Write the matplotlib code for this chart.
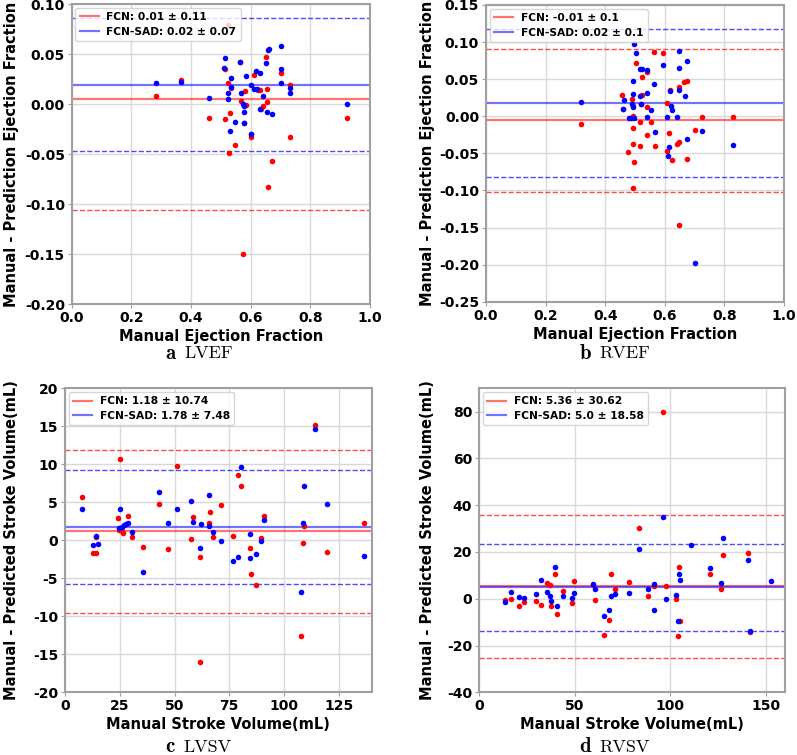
import matplotlib.pyplot as plt
import numpy as np

plt.rcParams['axes.unicode_minus'] = False
plt.rcParams['font.weight'] = 'bold'
plt.rcParams['axes.labelweight'] = 'bold'

# (manual value, manual - predicted)
lvef_fcn = [(0.283, 0.008), (0.367, 0.024), (0.461, -0.014), (0.513, -0.015), (0.513, 0.035),
            (0.525, 0.021), (0.530, -0.009), (0.528, -0.049), (0.525, 0.079), (0.533, 0.016),
            (0.548, -0.041), (0.564, 0.042), (0.581, 0.013), (0.566, 0.003), (0.579, -0.001),
            (0.584, -0.001), (0.577, -0.019), (0.602, -0.030), (0.600, -0.033), (0.611, 0.029),
            (0.623, 0.014), (0.631, 0.014), (0.654, 0.002), (0.640, -0.002), (0.633, -0.005),
            (0.651, 0.047), (0.654, 0.015), (0.700, 0.031), (0.732, 0.019), (0.732, -0.033),
            (0.670, -0.057), (0.922, -0.014), (0.659, -0.083), (0.575, -0.150)]
lvef_sad = [(0.283, 0.021), (0.366, 0.022), (0.461, 0.006), (0.514, 0.046), (0.512, 0.036),
            (0.525, 0.011), (0.525, 0.005), (0.530, -0.027), (0.533, 0.026), (0.533, 0.017),
            (0.548, -0.018), (0.564, 0.042), (0.584, 0.028), (0.566, 0.011), (0.574, 0.000),
            (0.577, -0.002), (0.577, -0.008), (0.577, -0.019), (0.600, -0.030), (0.601, 0.019),
            (0.617, 0.033), (0.631, 0.031), (0.611, 0.015), (0.620, 0.015), (0.640, 0.008),
            (0.631, -0.005), (0.656, -0.008), (0.670, -0.010), (0.651, 0.041), (0.657, 0.054),
            (0.662, 0.055), (0.700, 0.058), (0.700, 0.035), (0.700, 0.021), (0.732, 0.016),
            (0.732, 0.011), (0.922, 0.000)]

rvef_fcn = [(0.318, -0.011), (0.457, 0.029), (0.461, 0.010), (0.477, -0.048), (0.489, 0.023),
            (0.492, 0.014), (0.492, 0.000), (0.503, 0.072), (0.522, 0.053), (0.541, 0.059),
            (0.564, 0.087), (0.593, 0.085), (0.665, 0.046), (0.675, 0.047), (0.649, 0.039),
            (0.617, 0.035), (0.522, 0.029), (0.521, 0.017), (0.541, 0.013), (0.606, 0.018),
            (0.517, -0.008), (0.554, -0.008), (0.726, -0.001), (0.828, -0.001), (0.492, -0.016),
            (0.539, -0.025), (0.615, -0.023), (0.701, -0.019), (0.649, -0.035), (0.642, -0.037),
            (0.494, -0.037), (0.517, -0.040), (0.567, -0.040), (0.608, -0.047), (0.623, -0.059),
            (0.673, -0.058), (0.497, -0.062), (0.494, -0.097), (0.649, -0.147)]
rvef_sad = [(0.318, 0.019), (0.463, 0.022), (0.459, 0.010), (0.480, -0.003), (0.497, 0.098),
            (0.503, 0.085), (0.517, 0.064), (0.523, 0.064), (0.541, 0.062), (0.494, 0.048),
            (0.565, 0.043), (0.593, 0.069), (0.649, 0.088), (0.676, 0.075), (0.649, 0.065),
            (0.649, 0.036), (0.617, 0.034), (0.667, 0.027), (0.541, 0.031), (0.517, 0.027),
            (0.492, 0.030), (0.489, 0.016), (0.492, 0.012), (0.521, 0.017), (0.554, 0.009),
            (0.620, 0.014), (0.623, 0.008), (0.539, -0.001), (0.606, -0.001), (0.642, -0.001),
            (0.487, -0.002), (0.497, -0.002), (0.567, -0.021), (0.726, -0.020), (0.673, -0.030),
            (0.828, -0.039), (0.615, -0.042), (0.610, -0.053), (0.702, -0.198)]

lvsv_fcn = [(7.9, 5.66), (14.0, 0.4), (12.6, -1.71), (14.0, -1.71), (25.1, 10.7), (24.3, 2.98),
            (28.6, 3.2), (24.8, 1.4), (26.0, 1.2), (26.6, 1.0), (30.7, 0.48), (35.8, -0.84),
            (43.1, 4.73), (47.2, -1.18), (51.0, 9.78), (58.6, 3.03), (57.4, 0.17), (61.6, -2.16),
            (66.1, 3.68), (65.9, 2.32), (67.7, 0.48), (71.2, 4.64), (79.0, 8.59), (80.4, 7.14),
            (76.9, 0.57), (84.5, -1.05), (89.3, 0.26), (91.0, 3.2), (109.3, 1.92), (108.8, -0.4),
            (114.2, 15.17), (119.7, -1.5), (136.5, 2.24), (84.8, -4.43), (87.1, -5.92),
            (107.6, -12.55), (61.6, -15.97)]
lvsv_sad = [(7.9, 4.12), (14.0, 0.6), (12.6, -0.62), (15.2, -0.49), (25.1, 4.12), (24.8, 1.6),
            (26.0, 1.8), (27.0, 2.0), (28.0, 2.2), (28.9, 2.3), (30.7, 1.05), (35.5, -4.2),
            (43.1, 6.4), (47.2, 2.24), (51.0, 4.08), (57.4, 5.2), (58.6, 2.45), (61.6, -1.05),
            (61.9, 2.14), (65.9, 5.96), (65.9, 1.92), (67.7, 1.13), (71.2, -0.05), (80.4, 9.6),
            (84.5, 0.83), (79.1, -2.15), (76.9, -2.7), (84.5, -2.37), (87.1, -1.84), (89.3, -0.05),
            (91.0, 2.67), (108.8, 2.24), (109.3, 7.14), (114.2, 14.6), (119.7, 4.73),
            (136.5, -2.02), (107.6, -6.8)]

rvsv_fcn = [(13.6, -0.7), (16.7, 0.0), (20.9, -2.9), (23.5, -1.4), (29.8, -1.0), (32.4, -2.6),
            (35.4, 6.9), (37.1, 6.0), (37.7, -2.9), (39.7, 10.4), (40.6, -6.4), (44.1, 3.3),
            (48.8, -1.7), (49.9, 7.6), (59.8, 5.7), (60.7, -0.7), (65.4, -15.4), (68.2, -8.9),
            (68.9, 10.4), (71.1, 4.3), (78.5, 7.1), (88.6, 1.0), (91.7, 5.4), (97.8, 5.3),
            (103.0, 0.0), (105.1, -9.3), (104.3, -16.1), (104.6, 13.6), (120.8, 10.4),
            (126.6, 4.3), (141.7, -14.3), (96.4, 79.7), (83.7, 30.4), (127.5, 18.8), (140.5, 19.5)]
rvsv_sad = [(13.6, -1.4), (16.7, 3.1), (20.9, 0.7), (23.5, 0.4), (29.8, 1.9), (32.4, 8.1),
            (35.4, 2.9), (37.1, 1.1), (37.7, -1.0), (39.7, 13.6), (40.6, -3.3), (44.1, 1.1),
            (48.8, 0.4), (49.9, 2.6), (59.8, 6.4), (60.7, 4.0), (65.4, -7.4), (68.2, -4.6),
            (68.9, 1.1), (71.1, 1.9), (78.5, 2.6), (88.6, 4.0), (91.7, 6.4), (91.7, -5.0),
            (97.8, 0.0), (103.0, 1.7), (104.3, -9.7), (104.6, 10.7), (105.1, 8.1), (120.8, 13.3),
            (126.6, 6.9), (141.7, -13.6), (140.5, 16.7), (152.7, 7.6), (96.4, 34.8), (83.7, 21.4),
            (110.7, 22.8), (127.5, 25.9)]

# mean difference and 1.96*SD half width for FCN, FCN-SAD
lvef_mean = [0.005, 0.0195]
lvef_loa = [0.111, 0.0665]
rvef_mean = [-0.0055, 0.0175]
rvef_loa = [0.0965, 0.0995]
lvsv_mean = [1.18, 1.78]
lvsv_loa = [10.74, 7.48]
rvsv_mean = [5.36, 5.0]
rvsv_loa = [30.62, 18.58]

lvef_labels = ['FCN: 0.01 ± 0.11', 'FCN-SAD: 0.02 ± 0.07']
rvef_labels = ['FCN: -0.01 ± 0.1', 'FCN-SAD: 0.02 ± 0.1']
lvsv_labels = ['FCN: 1.18 ± 10.74', 'FCN-SAD: 1.78 ± 7.48']
rvsv_labels = ['FCN: 5.36 ± 30.62', 'FCN-SAD: 5.0 ± 18.58']

captions = [('a', 'LVEF'), ('b', 'RVEF'), ('c', 'LVSV'), ('d', 'RVSV')]

W, H = 797, 755
fig = plt.figure(figsize=(W / 100, H / 100), dpi=100)


def px_axes(l, t, r, b):
    return fig.add_axes([l / W, 1 - b / H, (r - l) / W, (b - t) / H])


def bland_altman(ax, fcn, sad, means, loas, labels):
    f = np.array(fcn)
    s = np.array(sad)
    ax.scatter(f[:, 0], f[:, 1], s=16, color='r', linewidths=0, zorder=3)
    ax.scatter(s[:, 0], s[:, 1], s=16, color='b', linewidths=0, zorder=3)
    for m, d, c, lab in zip(means, loas, ['r', 'b'], labels):
        ax.axhline(m, color=c, alpha=0.55, lw=1.6, label=lab, zorder=2)
        ax.axhline(m + d, color=c, alpha=0.7, lw=1.0, ls='--', zorder=2)
        ax.axhline(m - d, color=c, alpha=0.7, lw=1.0, ls='--', zorder=2)
    ax.grid(True, color='#d9d9d9', lw=1)
    ax.set_axisbelow(True)
    for sp in ax.spines.values():
        sp.set_color('#a0a0a0')
        sp.set_linewidth(1.5)
    ax.tick_params(labelsize=10, length=3, pad=2, color='#a0a0a0')
    ax.legend(loc='upper left', fontsize=7.7, handlelength=1.8, handletextpad=0.7,
              labelspacing=0.45, borderpad=0.4, borderaxespad=0.35)


ax1 = px_axes(71.7, 4, 370, 304)
bland_altman(ax1, lvef_fcn, lvef_sad, lvef_mean, lvef_loa, lvef_labels)
ax1.set_xlim(0, 1)
ax1.set_ylim(-0.2, 0.1)
ax1.set_xlabel('Manual Ejection Fraction', fontsize=10.5, labelpad=3)
ax1.set_ylabel('Manual - Prediction Ejection Fraction', fontsize=10.5)
ax1.yaxis.set_label_coords(-0.177, 0.5)

ax2 = px_axes(486, 5, 784, 301.7)
bland_altman(ax2, rvef_fcn, rvef_sad, rvef_mean, rvef_loa, rvef_labels)
ax2.set_xlim(0, 1)
ax2.set_ylim(-0.25, 0.15)
ax2.set_xlabel('Manual Ejection Fraction', fontsize=10.5, labelpad=3)
ax2.set_ylabel('Manual - Prediction Ejection Fraction', fontsize=10.5)
ax2.yaxis.set_label_coords(-0.171, 0.5)

ax3 = px_axes(65, 388.3, 371.7, 692.3)
bland_altman(ax3, lvsv_fcn, lvsv_sad, lvsv_mean, lvsv_loa, lvsv_labels)
ax3.set_xlim(0, 140)
ax3.set_ylim(-20, 20)
ax3.set_xticks([0, 25, 50, 75, 100, 125])
ax3.set_yticks(np.arange(-20, 21, 5))
ax3.set_xlabel('Manual Stroke Volume(mL)', fontsize=10.5, labelpad=3)
ax3.set_ylabel('Manual - Predicted Stroke Volume(mL)', fontsize=10.5)
ax3.yaxis.set_label_coords(-0.150, 0.5)

ax4 = px_axes(479, 388.3, 785, 692.3)
bland_altman(ax4, rvsv_fcn, rvsv_sad, rvsv_mean, rvsv_loa, rvsv_labels)
ax4.set_xlim(0, 160)
ax4.set_ylim(-40, 90)
ax4.set_xticks([0, 50, 100, 150])
ax4.set_yticks(np.arange(-40, 81, 20))
ax4.set_xlabel('Manual Stroke Volume(mL)', fontsize=10.5, labelpad=3)
ax4.set_ylabel('Manual - Predicted Stroke Volume(mL)', fontsize=10.5)
ax4.yaxis.set_label_coords(-0.144, 0.5)

# panel captions
cap_pos = [(176, 353), (591, 353), (175, 747), (591, 747)]
for (letter, name), (cx, cy) in zip(captions, cap_pos):
    fig.text(cx / W, 1 - cy / H, letter, family='cmb10', fontsize=15,
             ha='right', va='center')
    fig.text((cx + 8) / W, 1 - cy / H, name, family='cmr10', fontsize=13,
             ha='left', va='center')

fig.savefig('out.png', dpi=100, facecolor='white')
